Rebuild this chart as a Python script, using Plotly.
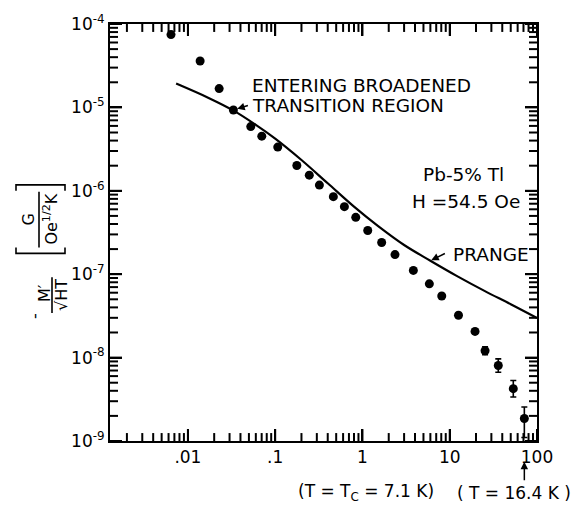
import math
import plotly.graph_objects as go

# Measured magnetization (points) vs reduced variable
x_obs = [0.0064, 0.0138, 0.0228, 0.0332, 0.0525, 0.0702, 0.107, 0.177, 0.246,
         0.321, 0.464, 0.621, 0.838, 1.15, 1.66, 2.36, 3.83, 5.84, 8.10, 12.6,
         19.5, 25.4, 36.0, 53.5, 71.6]
y_obs = [7.46e-5, 3.6e-5, 1.68e-5, 9.3e-6, 5.89e-6, 4.52e-6, 3.34e-6, 2.01e-6,
         1.54e-6, 1.17e-6, 8.5e-7, 6.45e-7, 4.81e-7, 3.34e-7, 2.40e-7, 1.72e-7,
         1.11e-7, 7.67e-8, 5.47e-8, 3.22e-8, 2.06e-8, 1.21e-8, 8.03e-9, 4.24e-9,
         1.86e-9]
err_hi = [0] * 21 + [1.4e-9, 1.63e-9, 1.08e-9, 0.70e-9]
err_lo = [0] * 21 + [1.3e-9, 1.35e-9, 0.87e-9, 0.76e-9]

# Prange theory curve
x_th = [0.00733, 0.0175, 0.033, 0.06, 0.1, 0.2, 0.4, 0.8, 1.5, 3, 6, 12, 25,
        50, 100]
y_th = [1.93e-5, 1.29e-5, 9.2e-6, 6.17e-6, 4.22e-6, 2.34e-6, 1.23e-6, 6.46e-7,
        3.80e-7, 2.24e-7, 1.45e-7, 9.55e-8, 6.31e-8, 4.37e-8, 2.99e-8]

x_ticks = [0.01, 0.1, 1, 10, 100]
x_ticktext = [".01", ".1", "1", "10", "100"]
y_ticks = [1e-9, 1e-8, 1e-7, 1e-6, 1e-5, 1e-4]
y_ticktext = ["10<sup>-9</sup>", "10<sup>-8</sup>", "10<sup>-7</sup>",
              "10<sup>-6</sup>", "10<sup>-5</sup>", "10<sup>-4</sup>"]
sub_decade = [2, 3, 4, 5, 6, 7, 8, 9]

X_RANGE = [math.log10(0.00128), 2.0]
Y_RANGE = [-9, -4]

x_minor = [m * 10.0 ** e for e in range(-3, 2) for m in sub_decade]
y_minor = [m * 10.0 ** e for e in range(-9, -4) for m in sub_decade]

FONT = "DejaVu Sans"
W, H = 584, 516
L, R, T, B = 110, 47, 21, 75
PW, PH = W - L - R, H - T - B
MAJOR_LEN, MINOR_LEN = 12, 8


def px(xp):
    return (xp - L) / PW


def py(yp):
    return (H - B - yp) / PH


fig = go.Figure()

fig.add_trace(go.Scatter(
    x=x_th, y=y_th, mode="lines",
    line=dict(color="black", width=2.2, shape="spline", smoothing=1.0),
    hoverinfo="skip"))

fig.add_trace(go.Scatter(
    x=x_obs, y=y_obs, mode="markers",
    marker=dict(color="black", size=9),
    error_y=dict(type="data", symmetric=False, array=err_hi, arrayminus=err_lo,
                 color="black", thickness=1.6, width=3)))

tickfont = dict(family=FONT, size=17, color="black")
base = dict(type="log", showgrid=False, zeroline=False, showline=True,
            linecolor="black", linewidth=2, mirror="ticks", ticks="inside",
            ticklen=MAJOR_LEN, tickwidth=2, tickcolor="black",
            tickmode="array", tickfont=tickfont)

fig.update_layout(
    xaxis=dict(**base, range=X_RANGE, tickvals=x_ticks, ticktext=x_ticktext),
    yaxis=dict(**base, range=Y_RANGE, tickvals=y_ticks, ticktext=y_ticktext,
               ticksuffix="  "),
)

# inward tick marks on all four sides, placed through the axis scales
shapes = []
tick_line = dict(color="black", width=2)
for vals, length in ((x_ticks, MAJOR_LEN), (x_minor, MINOR_LEN)):
    f = length / PH
    for v in vals:
        for y0, y1 in ((0, f), (1, 1 - f)):
            shapes.append(dict(type="line", xref="x", yref="paper",
                               x0=v, x1=v, y0=y0, y1=y1, line=tick_line,
                               layer="above"))
for vals, length in ((y_ticks, MAJOR_LEN), (y_minor, MINOR_LEN)):
    f = length / PW
    for v in vals:
        for x0, x1 in ((0, f), (1, 1 - f)):
            shapes.append(dict(type="line", xref="paper", yref="y",
                               x0=x0, x1=x1, y0=v, y1=v, line=tick_line,
                               layer="above"))

ann = []
txt = dict(family=FONT, size=18.5, color="black")
mid = dict(family=FONT, size=17, color="black")
small = dict(family=FONT, size=16, color="black")


def label(xp, yp, text, font=txt, xanchor="center", **kw):
    ann.append(dict(xref="paper", yref="paper", x=px(xp), y=py(yp),
                    xanchor=xanchor, yanchor="middle", text=text,
                    showarrow=False, font=font, **kw))


label(250, 83, "ENTERING BROADENED", xanchor="left")
label(250, 103, "TRANSITION REGION", xanchor="left")
# leader to the first point of the broadened region
ann.append(dict(x=math.log10(x_obs[3]), y=math.log10(y_obs[3]), text="",
                showarrow=True, arrowhead=2, arrowsize=1, arrowwidth=1.5,
                arrowcolor="black", ax=16, ay=-5, standoff=4))

label(463, 173, "Pb-5% Tl")
label(466, 200, "H =54.5 Oe")

label(451, 253, "PRANGE", xanchor="left")
ann.append(dict(x=math.log10(x_th[10]), y=math.log10(y_th[10]), text="",
                showarrow=True, arrowhead=2, arrowsize=1, arrowwidth=1.5,
                arrowcolor="black", ax=16, ay=-8, standoff=1))

label(366, 493, "(T = T<sub>C</sub> = 7.1 K)", font=mid)
label(514, 493, "( T = 16.4 K )", font=mid)
ann.append(dict(x=math.log10(x_obs[-1]), yref="paper", y=py(462), text="",
                showarrow=True, arrowhead=2, arrowsize=1, arrowwidth=1.5,
                arrowcolor="black", ax=0, ay=20, standoff=0))

# y-axis title built from rotated pieces
label(35, 315, "-", font=small, textangle=-90)
label(44, 292, "M\u2032", font=small, textangle=-90)
label(61, 294, "\u221aHT", font=small, textangle=-90)
label(29, 218, "G", font=small, textangle=-90)
label(51, 218, "Oe<sup>1/2</sup>K", font=small, textangle=-90)

line_style = dict(color="black", width=1.6)
# fraction bars
shapes.append(dict(type="line", xref="paper", yref="paper",
                   x0=px(52), x1=px(52), y0=py(276), y1=py(312), line=line_style))
shapes.append(dict(type="line", xref="paper", yref="paper",
                   x0=px(39), x1=px(39), y0=py(190), y1=py(246), line=line_style))
# square brackets
for yb, tip in ((252, 246), (183, 189)):
    shapes.append(dict(type="path", xref="paper", yref="paper",
                       path=f"M {px(16)} {py(tip)} L {px(16)} {py(yb)} "
                            f"L {px(65)} {py(yb)} L {px(65)} {py(tip)}",
                       line=line_style))

fig.update_layout(
    annotations=ann,
    shapes=shapes,
    width=W, height=H,
    margin=dict(l=L, r=R, t=T, b=B),
    paper_bgcolor="white", plot_bgcolor="white",
    showlegend=False,
    font=dict(family=FONT, color="black"),
)

fig.write_html("out.html")
